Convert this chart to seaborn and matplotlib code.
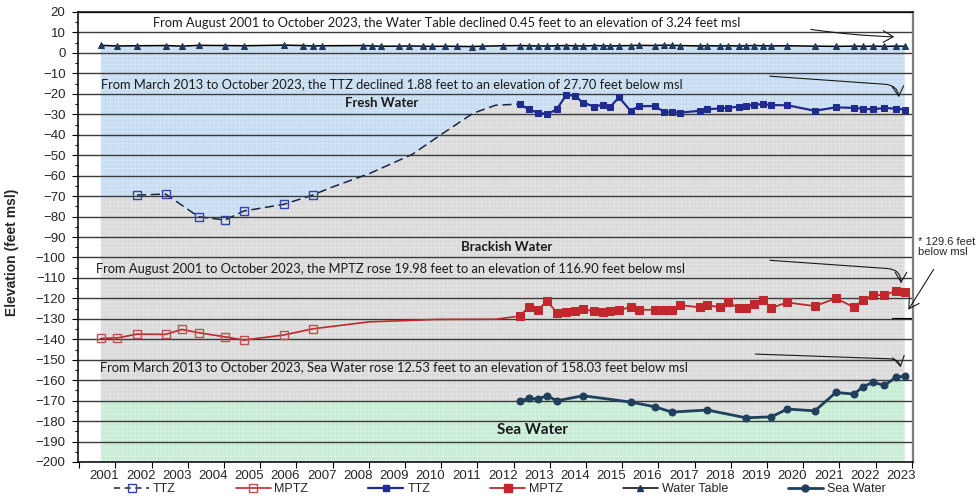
import numpy as np
import matplotlib
matplotlib.use('Agg')
import matplotlib.pyplot as plt
import seaborn as sns
from matplotlib.lines import Line2D
from matplotlib.ticker import FixedLocator, FixedFormatter, MultipleLocator, NullFormatter

# sampling dates (decimal years) from 2013 on, shared by TTZ / MPTZ / water table
recent_years = [2013.17, 2013.42, 2013.66, 2013.93, 2014.19, 2014.46, 2014.69, 2014.92,
                2015.23, 2015.46, 2015.66, 2015.91, 2016.23, 2016.47, 2016.90, 2017.16,
                2017.37, 2017.59, 2018.15, 2018.35, 2018.70, 2018.93, 2019.23, 2019.42,
                2019.64, 2019.90, 2020.12, 2020.56, 2021.32, 2021.90, 2022.41, 2022.64,
                2022.93, 2023.24, 2023.56, 2023.80]

ttz_recent = [-25.0, -27.6, -29.2, -29.9, -27.6, -20.4, -21.1, -24.3, -26.3, -25.3, -26.6, -21.7,
              -28.3, -26.0, -26.0, -28.9, -28.9, -29.2, -28.3, -27.6, -27.1, -26.8, -26.3, -26.0,
              -25.3, -25.1, -25.5, -25.6, -28.3, -26.6, -26.9, -27.3, -27.6, -26.9, -27.3, -27.7]

mptz_recent = [-128.65, -124.1, -125.7, -121.3, -127.0, -126.5, -126.2, -125.4, -126.2, -126.8,
               -126.2, -125.9, -124.1, -125.6, -125.6, -125.6, -125.6, -123.3, -124.4, -123.3,
               -124.4, -122.0, -124.9, -124.9, -122.8, -121.0, -124.6, -122.0, -123.8, -120.0,
               -124.4, -120.8, -118.4, -118.4, -116.4, -116.9]

# early (2001-2007) hollow-marker measurements
early_years = [2001.60, 2002.06, 2002.60, 2003.39, 2003.84, 2004.30, 2005.03, 2005.55, 2006.66, 2007.45]
mptz_early = [-139.6, -139.3, -137.5, -137.6, -135.2, -136.8, -138.8, -140.4, -137.9, -134.9]
ttz_early_years = [2002.60, 2003.39, 2004.30, 2005.03, 2005.55, 2006.66, 2007.45]
ttz_early = [-69.5, -69.0, -80.1, -81.7, -77.3, -74.0, -69.5]
ttz_start = -71.6

# trend lines joining the early and recent records
ttz_trend_years = [2007.45, 2007.93, 2009.03, 2010.20, 2011.05, 2011.88, 2012.50, 2013.17]
ttz_trend = [-69.5, -66.0, -58.9, -49.6, -39.3, -29.5, -25.6, -25.0]
mptz_trend_years = [2007.45, 2009.00, 2010.90, 2012.50, 2013.17]
mptz_trend = [-134.9, -131.5, -130.3, -130.2, -128.65]

# sea water
sea_years = [2013.17, 2013.42, 2013.66, 2013.93, 2014.19, 2014.92, 2016.23, 2016.90, 2017.37,
             2018.35, 2019.42, 2020.12, 2020.56, 2021.32, 2021.90, 2022.41, 2022.64, 2022.93,
             2023.24, 2023.56, 2023.80]
sea_values = [-170.2, -168.9, -169.2, -167.6, -170.1, -167.6, -170.7, -173.0, -175.6, -174.6,
              -178.4, -177.9, -174.1, -175.0, -166.0, -166.8, -163.2, -161.1, -162.5, -158.6, -158.0]
sea_start = -170.0

# water table
wt_early_years = [2001.60, 2002.06, 2002.60, 2003.39, 2003.84, 2004.30, 2005.03, 2005.55, 2006.66,
                  2007.19, 2007.45, 2007.70, 2008.85, 2009.09, 2009.33, 2009.84, 2010.12, 2010.49,
                  2010.74, 2011.10, 2011.44, 2011.84, 2012.13, 2012.71]
wt_early = [3.69, 3.4, 3.5, 3.6, 3.3, 3.7, 3.6, 3.5, 3.8, 3.6, 3.4, 3.5, 3.6, 3.4, 3.3, 3.3,
            3.4, 3.3, 3.2, 3.3, 3.2, 3.1, 3.3, 3.5]
wt_recent = [3.6, 3.5, 3.4, 3.4, 3.5, 3.6, 3.5, 3.4, 3.6, 3.5, 3.4, 3.5, 3.6, 3.7, 3.6, 3.8,
             3.7, 3.6, 3.4, 3.5, 3.4, 3.5, 3.4, 3.5, 3.6, 3.5, 3.4, 3.5, 3.3, 3.2, 3.3, 3.2,
             3.3, 3.2, 3.3, 3.24]

note_value = -129.6
year_labels = list(range(2001, 2024))

sns.set_theme(style='white')
plt.rcParams['font.family'] = ['Liberation Sans', 'DejaVu Sans']
plt.rcParams['hatch.linewidth'] = 0.4
CAL = ['Lato', 'DejaVu Sans']

fig = plt.figure(figsize=(9.76, 5.0), dpi=100)
ax = fig.add_axes([78 / 976, 38 / 500, 835 / 976, 450 / 500])

# background zones
grid = np.linspace(2001.6, 2023.8, 1500)
wt_line = np.interp(grid, wt_early_years + recent_years, wt_early + wt_recent)
ttz_line = np.interp(grid, [2001.6] + ttz_early_years + ttz_trend_years[1:-1] + recent_years,
                     [ttz_start] + ttz_early + ttz_trend[1:-1] + ttz_recent)
sea_line = np.interp(grid, [2001.6] + sea_years, [sea_start] + sea_values)

ax.fill_between(grid, ttz_line, wt_line, facecolor='#c6dcf2', edgecolor='#dce9f7',
                hatch='++++', linewidth=0, zorder=1)
ax.fill_between(grid, sea_line, ttz_line, facecolor='#dadada', edgecolor='#e9e9e9',
                hatch='++++', linewidth=0, zorder=1)
ax.fill_between(grid, -200, sea_line, facecolor='#c6ecd4', edgecolor='#dff5e7',
                hatch='++++', linewidth=0, zorder=1)

navy = '#1f2b8e'
red = '#c0282d'
sea_c = '#1f3f5c'

# TTZ
sns.lineplot(x=ttz_early_years + ttz_trend_years[1:], y=ttz_early + ttz_trend[1:], ax=ax,
             color='#1c2541', linewidth=1.1, linestyle=(0, (6, 3)), marker='s', markersize=6,
             markerfacecolor='none', markeredgecolor='#3344aa', markeredgewidth=1.0,
             markevery=list(range(len(ttz_early))), sort=False, estimator=None, legend=False)
sns.lineplot(x=recent_years, y=ttz_recent, ax=ax, color=navy, linewidth=1.6, marker='s',
             markersize=5, markeredgecolor=navy, sort=False, estimator=None, legend=False)

# MPTZ
sns.lineplot(x=early_years + mptz_trend_years[1:], y=mptz_early + mptz_trend[1:], ax=ax,
             color=red, linewidth=1.2, marker='s', markersize=6, markerfacecolor='none',
             markeredgecolor='#c0504d', markeredgewidth=1.0,
             markevery=list(range(len(early_years))), sort=False, estimator=None, legend=False)
sns.lineplot(x=recent_years, y=mptz_recent, ax=ax, color=red, linewidth=1.3, marker='s',
             markersize=5.5, markeredgecolor=red, sort=False, estimator=None, legend=False)

# water table
sns.lineplot(x=wt_early_years + recent_years, y=wt_early + wt_recent, ax=ax, color='black',
             linewidth=1.1, marker='^', markersize=4.5, markerfacecolor='#1f3a5f',
             markeredgecolor='#1f3a5f', sort=False, estimator=None, legend=False)

# sea water
sns.lineplot(x=sea_years, y=sea_values, ax=ax, color=sea_c, linewidth=2.0, marker='o',
             markersize=5, markeredgecolor=sea_c, sort=False, estimator=None, legend=False)

ax.set_xlim(2000.97, 2024.03)
ax.set_ylim(-200, 20)
ax.yaxis.set_major_locator(MultipleLocator(10))
ax.yaxis.set_minor_locator(MultipleLocator(5))
ax.xaxis.set_major_locator(FixedLocator(list(range(2001, 2025))))
ax.xaxis.set_major_formatter(NullFormatter())
ax.xaxis.set_minor_locator(FixedLocator([y + 0.7 for y in year_labels]))
ax.xaxis.set_minor_formatter(FixedFormatter([str(y) for y in year_labels]))
ax.tick_params(axis='x', which='major', direction='out', length=4, width=0.8, color='black', bottom=True)
ax.tick_params(axis='x', which='minor', length=0, pad=6, labelsize=9.5, bottom=True)
ax.tick_params(axis='y', which='major', direction='out', length=4, width=0.8, color='black',
               left=True, labelsize=9.5, pad=5)
ax.tick_params(axis='y', which='minor', direction='out', length=2.5, width=0.8, color='black', left=True)
ax.set_xlabel('')
ax.set_ylabel('')

ax.set_axisbelow('line')
ax.yaxis.grid(True, color='#3a3a3a', linewidth=1.0)
ax.xaxis.grid(False)
for side in ['left', 'bottom', 'top']:
    ax.spines[side].set_color('black')
    ax.spines[side].set_linewidth(1.1)
ax.spines['right'].set_color('#7f7f7f')
ax.spines['right'].set_linewidth(1.6)

fig.text(12 / 976, 1 - 252 / 500, 'Elevation (feet msl)', rotation=90, fontweight='bold',
         fontsize=10, ha='center', va='center')

# annotations
txt_kw = dict(family=CAL, fontsize=9.3, color='#1a1a1a', ha='left', va='center', zorder=5)
ax.text(2003.03, 14.8, 'From August 2001 to October 2023, the Water Table declined 0.45 feet '
        'to an elevation of 3.24 feet msl', **txt_kw)
ax.text(2001.6, -15.2, 'From March 2013 to October 2023, the TTZ declined 1.88 feet to an '
        'elevation of 27.70 feet below msl', **txt_kw)
ax.text(2001.48, -105.8, 'From August 2001 to October 2023, the MPTZ rose 19.98 feet to an '
        'elevation of 116.90 feet below msl', **txt_kw)
ax.text(2001.59, -153.7, 'From March 2013 to October 2023, Sea Water rose 12.53 feet to an '
        'elevation of 158.03 feet below msl', **txt_kw)

bold_kw = dict(family=CAL, fontweight='bold', color='#1a1a1a', ha='center', va='center', zorder=5)
ax.text(2009.36, -24.5, 'Fresh Water', fontsize=9.5, **bold_kw)
ax.text(2012.82, -94.8, 'Brackish Water', fontsize=9.5, **bold_kw)
ax.text(2013.52, -184.4, 'Sea Water', fontsize=11, **bold_kw)

arrow_kw = dict(arrowstyle='->,head_length=0.6,head_width=0.35', color='#1a1a1a', lw=0.8)
ax.annotate('', xy=(2023.59, 7.8), xytext=(2021.13, 11.7),
            arrowprops=dict(connectionstyle='arc3,rad=0.03', **arrow_kw))
ax.annotate('', xy=(2023.64, -23.0), xytext=(2020.0, -11.3),
            arrowprops=dict(connectionstyle='angle,angleA=-4,angleB=90,rad=14', **arrow_kw))
ax.annotate('', xy=(2023.7, -114.0), xytext=(2020.0, -101.3),
            arrowprops=dict(connectionstyle='angle,angleA=-4,angleB=90,rad=14', **arrow_kw))
ax.annotate('', xy=(2023.7, -155.1), xytext=(2019.6, -147.2),
            arrowprops=dict(connectionstyle='angle,angleA=-2,angleB=90,rad=12', **arrow_kw))

# note for the MPTZ marker off the right edge
ax.text(2024.17, -94.9, '* 129.6 feet\nbelow msl', fontsize=8, ha='left', va='center',
        linespacing=1.1, clip_on=False)
ax.annotate('', xy=(2023.86, -126.7), xytext=(2024.64, -104.7), annotation_clip=False,
            arrowprops=dict(connectionstyle='arc3', **arrow_kw))
ax.plot([2023.45, 2024.03], [note_value, note_value], color='black', lw=0.8, clip_on=False)

handles = [
    Line2D([], [], color='#1c2541', ls=(0, (4, 3)), lw=1.1, marker='s', ms=6, mfc='none', mec='#3344aa'),
    Line2D([], [], color=red, lw=1.2, marker='s', ms=6, mfc='none', mec='#c0504d'),
    Line2D([], [], color=navy, lw=1.6, marker='s', ms=5, mfc=navy, mec=navy),
    Line2D([], [], color=red, lw=1.3, marker='s', ms=5.5, mfc=red, mec=red),
    Line2D([], [], color='black', lw=1.1, marker='^', ms=4.5, mfc='#1f3a5f', mec='#1f3a5f'),
    Line2D([], [], color=sea_c, lw=2.0, marker='o', ms=5, mfc=sea_c, mec=sea_c),
]
labels = ['TTZ', 'MPTZ', 'TTZ', 'MPTZ', 'Water Table', 'Sea Water']
fig.legend(handles, labels, loc='center', bbox_to_anchor=(0.512, 0.021), ncol=6, frameon=False,
           fontsize=9, handlelength=2.8, handletextpad=0.3, columnspacing=4.8)

fig.savefig('out.png', dpi=100)
